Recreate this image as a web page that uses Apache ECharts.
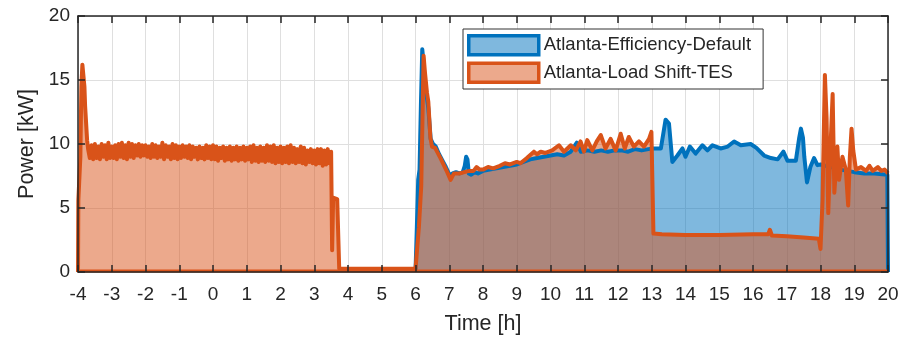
<!DOCTYPE html>
<html>
<head>
<meta charset="utf-8">
<script src="https://cdn.jsdelivr.net/npm/echarts@6/dist/echarts.min.js"></script>
<style>html,body{margin:0;padding:0;background:#fff}#c{width:902px;height:337px}</style>
</head>
<body>
<div id="c"></div>
<script>
// ---- data (time [h], power [kW]) ----
var seriesNames = ['Atlanta-Efficiency-Default', 'Atlanta-Load Shift-TES'];
var xTicks = [-4,-3,-2,-1,0,1,2,3,4,5,6,7,8,9,10,11,12,13,14,15,16,17,18,19,20];
var yTicks = [0,5,10,15,20];

var blueData = [[6.0,0],[6.04,3.5],[6.08,7.2],[6.12,8],[6.16,13],[6.2,17.4],[6.23,16.6],[6.27,15.2],[6.32,14],[6.38,12.8],[6.45,10.4],[6.52,10.0],[6.6,9.8],[6.7,9.2],[6.8,8.7],[6.9,8.2],[6.97,7.8],[7.03,7.5],[7.1,7.7],[7.2,7.8],[7.3,7.7],[7.4,7.8],[7.46,8.3],[7.5,9.0],[7.54,8.8],[7.58,7.7],[7.65,7.6],[7.75,7.8],[7.85,7.7],[8.0,7.9],[8.2,8.0],[8.4,8.1],[8.6,8.2],[8.8,8.3],[9.0,8.4],[9.2,8.6],[9.4,8.8],[9.6,8.9],[9.8,9.0],[10.0,9.1],[10.2,9.2],[10.4,9.1],[10.6,9.4],[10.78,10.1],[10.9,9.4],[11.1,9.5],[11.3,9.4],[11.5,9.5],[11.7,9.4],[11.9,9.5],[12.1,9.5],[12.3,9.4],[12.5,9.6],[12.7,9.5],[12.9,9.6],[13.02,9.65],[13.27,9.65],[13.41,11.9],[13.51,11.6],[13.61,8.6],[13.76,9.1],[13.91,9.65],[14.0,9.0],[14.13,9.8],[14.3,9.25],[14.5,9.9],[14.65,9.5],[14.8,9.9],[15.04,9.65],[15.25,9.8],[15.44,10.2],[15.64,9.9],[15.93,10.0],[16.1,9.7],[16.33,9.1],[16.53,8.9],[16.73,8.8],[16.9,9.4],[17.02,8.7],[17.27,8.7],[17.37,10.5],[17.42,11.2],[17.48,10.5],[17.52,9.0],[17.6,7.0],[17.7,8.2],[17.81,8.9],[17.91,8.35],[18.0,8.4],[18.3,8.2],[18.6,8.0],[19.0,7.8],[19.3,7.7],[19.6,7.7],[19.98,7.6],[20,0]];

var orangeStart = [[-4,0],[-3.99,5.6],[-3.95,5.7],[-3.93,9],[-3.9,14.5],[-3.87,16.2],[-3.84,16.1],[-3.81,14.5],[-3.79,13],[-3.76,12.9],[-3.73,10.3]];

var orangeBand = [[-3.70,9.6],[-3.65,8.9],[-3.60,9.9],[-3.55,8.8],[-3.50,10.0],[-3.45,8.9],[-3.40,9.8],[-3.35,8.8],[-3.30,10.0],[-3.25,9.0],[-3.20,9.9],[-3.15,8.8],[-3.10,10.1],[-3.05,8.9],[-3.00,9.8],[-2.95,8.9],[-2.90,9.9],[-2.85,8.8],[-2.80,10.0],[-2.75,9.0],[-2.70,10.1],[-2.65,8.9],[-2.60,9.9],[-2.55,8.8],[-2.50,10.1],[-2.45,9.0],[-2.40,10.0],[-2.35,8.9],[-2.30,9.9],[-2.25,9.1],[-2.20,10.0],[-2.15,9.0],[-2.10,9.9],[-2.05,9.1],[-2.00,9.9],[-1.95,9.0],[-1.90,9.8],[-1.85,8.9],[-1.80,10.0],[-1.75,9.0],[-1.70,9.9],[-1.65,8.9],[-1.60,9.8],[-1.55,9.0],[-1.50,10.1],[-1.45,8.8],[-1.40,9.9],[-1.35,9.0],[-1.30,9.8],[-1.25,8.8],[-1.20,10.0],[-1.15,8.9],[-1.10,9.9],[-1.05,8.8],[-1.00,9.8],[-0.95,8.9],[-0.90,9.9],[-0.85,9.0],[-0.80,9.8],[-0.75,8.9],[-0.70,9.9],[-0.65,8.8],[-0.60,9.8],[-0.55,9.0],[-0.50,9.7],[-0.45,8.8],[-0.40,9.8],[-0.35,8.9],[-0.30,9.7],[-0.25,8.8],[-0.20,9.9],[-0.15,8.9],[-0.10,9.8],[-0.05,8.8],[0.00,9.9],[0.05,8.8],[0.10,9.8],[0.15,8.7],[0.20,9.7],[0.25,8.9],[0.30,9.8],[0.35,8.7],[0.40,9.7],[0.45,8.8],[0.50,9.8],[0.55,8.7],[0.60,9.7],[0.65,8.8],[0.70,9.8],[0.75,8.7],[0.80,9.7],[0.85,8.8],[0.90,9.8],[0.95,8.7],[1.00,9.7],[1.05,8.8],[1.10,9.8],[1.15,8.6],[1.20,9.9],[1.25,8.7],[1.30,9.7],[1.35,8.6],[1.40,9.8],[1.45,8.7],[1.50,9.7],[1.55,8.6],[1.60,9.9],[1.65,8.7],[1.70,9.8],[1.75,8.6],[1.80,9.9],[1.85,8.5],[1.90,9.7],[1.95,8.6],[2.00,9.8],[2.05,8.5],[2.10,9.7],[2.15,8.6],[2.20,9.8],[2.25,8.5],[2.30,9.9],[2.35,8.6],[2.40,9.7],[2.45,8.5],[2.50,9.6],[2.55,8.6],[2.60,9.8],[2.65,8.5],[2.70,9.7],[2.75,8.4],[2.80,9.5],[2.85,8.6],[2.90,9.6],[2.95,8.5],[3.00,9.5],[3.05,8.4],[3.10,9.6],[3.15,8.5],[3.20,9.6],[3.25,8.3],[3.30,9.5],[3.35,8.4],[3.40,9.6],[3.45,8.5],[3.50,9.4]];

var orangeMid = [[3.52,9.3],[3.53,1.7],[3.56,5.8],[3.68,5.7],[3.74,0.25],[6.0,0.25],[6.03,1.2],[6.1,3.5],[6.17,6.7],[6.21,12.5],[6.24,16.9],[6.28,15.6],[6.34,14],[6.38,13.3],[6.44,10.5],[6.49,9.8],[6.58,9.7],[6.74,8.9],[6.85,8.3],[6.94,7.8],[7.04,7.2],[7.14,7.7],[7.3,7.7],[7.45,7.8],[7.6,7.9],[7.72,7.9],[7.81,8.2],[7.9,8.0],[8.0,8.0],[8.15,8.2],[8.3,8.1],[8.5,8.3],[8.65,8.5],[8.8,8.4],[9.0,8.6],[9.11,8.5],[9.3,8.9],[9.51,9.4],[9.6,9.2],[9.71,9.4],[9.85,9.3],[10.05,9.5],[10.25,9.9],[10.4,9.4],[10.6,9.9],[10.75,9.5],[10.89,10.2],[10.99,9.4],[11.09,10.3],[11.24,9.5],[11.37,10.2],[11.49,10.7],[11.63,9.65],[11.78,10.4],[11.93,9.5],[12.08,10.8],[12.2,9.65],[12.32,10.55],[12.47,9.8],[12.62,10.2],[12.77,9.8],[12.92,10.4],[12.99,10.95]];

var orangeEnd = [[13.05,3.0],[13.3,2.95],[14.0,2.9],[15.0,2.9],[16.0,2.95],[16.45,2.95],[16.5,3.3],[16.56,2.85],[17.0,2.8],[17.5,2.7],[17.95,2.6],[18.0,1.8],[18.06,5.6],[18.13,15.4],[18.18,12],[18.23,4.6],[18.3,10],[18.36,13.9],[18.41,6.2],[18.5,9.8],[18.55,7.2],[18.65,9.0],[18.75,8.0],[18.82,5.2],[18.87,9],[18.92,11.2],[18.97,9.5],[19.05,8.0],[19.2,8.2],[19.35,7.9],[19.45,8.3],[19.55,7.9],[19.7,8.2],[19.8,7.9],[19.9,8.0],[20,7.7]];

var orangeData = orangeStart.concat(orangeBand, orangeMid, orangeEnd);
// bottom edge of the orange area (baseline of the area outline)
var orangeBaseline = [[-4,0.08],[20,0.08]];

// ---- styling ----
var FONT = '"Liberation Sans", Arial, Helvetica, sans-serif';
var TXT = '#262626';
var BLUE = '#0072BD', BLUE_FILL = 'rgba(0,114,189,0.5)';
var ORANGE = '#D95319', ORANGE_FILL = 'rgba(217,83,25,0.5)';
var LW = 4;

function frameAxis(pos, isX) {
  return {
    type: 'value', position: pos, min: isX ? xTicks[0] : yTicks[0],
    max: isX ? xTicks[xTicks.length-1] : yTicks[yTicks.length-1],
    interval: isX ? 1 : 5, z: 10,
    axisLine: {show: true, onZero: false, lineStyle: {color: TXT, width: 1.5}},
    axisTick: {show: true, inside: true, length: 7, lineStyle: {color: TXT, width: 1.5}},
    axisLabel: {show: false}, splitLine: {show: false}
  };
}

var chart = echarts.init(document.getElementById('c'), null, {renderer: 'canvas'});
chart.setOption({
  animation: false,
  backgroundColor: '#ffffff',
  textStyle: {fontFamily: FONT},
  grid: {left: 78, right: 14, top: 16, bottom: 65, containLabel: false, outerBoundsMode: 'none'},
  legend: {
    left: 463, top: 29, orient: 'vertical', selectedMode: false,
    backgroundColor: '#ffffff', borderColor: '#333333', borderWidth: 1,
    padding: [5, 12, 5, 4], itemGap: 5, itemWidth: 70, itemHeight: 19, itemTextGap: 8,
    icon: 'rect',
    textStyle: {fontFamily: FONT, fontSize: 18.5, color: TXT},
    data: [
      {name: seriesNames[0], icon: 'rect', itemStyle: {color: BLUE_FILL, borderColor: BLUE, borderWidth: 3.5}},
      {name: seriesNames[1], icon: 'rect', itemStyle: {color: ORANGE_FILL, borderColor: ORANGE, borderWidth: 3.5}}
    ]
  },
  xAxis: [
    {
      type: 'value', position: 'bottom', min: -4, max: 20, interval: 1, z: 0,
      name: 'Time [h]', nameLocation: 'middle', nameGap: 41,
      nameTextStyle: {fontFamily: FONT, fontSize: 21.5, color: TXT},
      axisLine: {show: false, onZero: false}, axisTick: {show: false},
      axisLabel: {show: true, fontFamily: FONT, fontSize: 19, color: TXT, margin: 13},
      splitLine: {show: true, lineStyle: {color: '#DFDFDF', width: 1}}
    },
    frameAxis('bottom', true),
    frameAxis('top', true)
  ],
  yAxis: [
    {
      type: 'value', position: 'left', min: 0, max: 20, interval: 5, z: 0,
      name: 'Power [kW]', nameLocation: 'middle', nameGap: 32,
      nameTextStyle: {fontFamily: FONT, fontSize: 21.5, color: TXT},
      axisLine: {show: false, onZero: false}, axisTick: {show: false},
      axisLabel: {show: true, fontFamily: FONT, fontSize: 19, color: TXT, margin: 8},
      splitLine: {show: true, lineStyle: {color: '#DFDFDF', width: 1}}
    },
    frameAxis('left', false),
    frameAxis('right', false)
  ],
  series: [
    {
      name: seriesNames[0], type: 'line', xAxisIndex: 0, yAxisIndex: 0,
      data: blueData, showSymbol: false, symbol: 'none',
      lineStyle: {color: BLUE, width: LW, join: 'round'},
      itemStyle: {color: BLUE},
      areaStyle: {color: BLUE_FILL, opacity: 1}
    },
    {
      name: seriesNames[1], type: 'line', xAxisIndex: 0, yAxisIndex: 0,
      data: orangeData, showSymbol: false, symbol: 'none',
      lineStyle: {color: ORANGE, width: LW, join: 'round'},
      itemStyle: {color: ORANGE},
      areaStyle: {color: ORANGE_FILL, opacity: 1}
    },
    {
      name: 'baseline', type: 'line', xAxisIndex: 0, yAxisIndex: 0,
      data: orangeBaseline, showSymbol: false, symbol: 'none', silent: true,
      lineStyle: {color: ORANGE, width: 3}
    }
  ]
});
</script>
</body>
</html>
